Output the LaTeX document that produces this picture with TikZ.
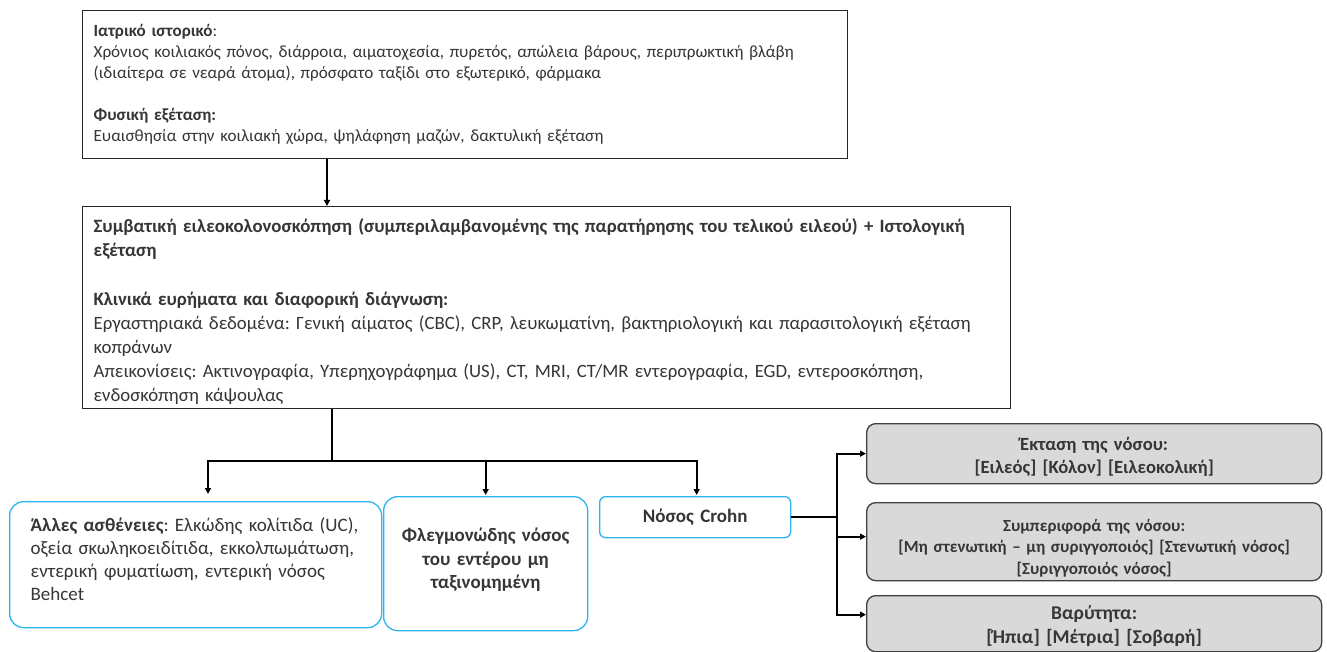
\documentclass[tikz,border=0pt]{standalone}
\usepackage{fontspec}
\setmainfont{Carlito}
\usetikzlibrary{arrows.meta,calc}
\definecolor{txt}{HTML}{363636}
\definecolor{blueb}{HTML}{2BB5EE}
\definecolor{grayf}{HTML}{D9D9D9}
\definecolor{grayb}{HTML}{404040}
\frenchspacing
\newcommand{\topstrut}[1]{\rule{0pt}{#1}}
\newcommand{\botstrut}[1]{\rule[-#1]{0pt}{1pt}}
\begin{document}
\begin{tikzpicture}[x=1pt,y=-1pt,
  sqbox/.style={draw=black!85, line width=1.3pt, anchor=north west, inner xsep=11pt, inner ysep=0pt, align=left, text=txt},
  bluebox/.style={draw=blueb, line width=1.3pt, rounded corners=14pt, anchor=north west, inner ysep=0pt, text=txt},
  graybox/.style={draw=grayb, fill=grayf, line width=1.3pt, rounded corners=9pt, anchor=north west, inner xsep=6pt, inner ysep=0pt, align=center, text=txt, font=\bfseries},
  conn/.style={line width=1.8pt, black},
  arr/.style={conn, -{Triangle[length=6pt,width=6pt]}}]
\useasboundingbox (0,0) rectangle (1327,652);
\fill[white] (0,0) rectangle (1327,652);

\node[sqbox, text width=743pt, minimum height=148pt, font=\fontsize{17.1}{21}\selectfont\frenchspacing] (b1) at (82,10)
{\textbf{Ιατρικό ιστορικό}:\\
Χρόνιος κοιλιακός πόνος, διάρροια, αιματοχεσία, πυρετός, απώλεια βάρους, περιπρωκτική βλάβη\\
(ιδιαίτερα σε νεαρά άτομα), πρόσφατο ταξίδι στο εξωτερικό, φάρμακα\\[21pt]
\textbf{Φυσική εξέταση:}\\
Ευαισθησία στην κοιλιακή χώρα, ψηλάφηση μαζών, δακτυλική εξέταση};

\node[sqbox, text width=906pt, minimum height=202pt, font=\fontsize{18.8}{24.2}\selectfont\frenchspacing] (b2) at (82,206)
{\topstrut{22pt}\textbf{Συμβατική ειλεοκολονοσκόπηση (συμπεριλαμβανομένης της παρατήρησης του τελικού ειλεού) + Ιστολογική}\\
\textbf{εξέταση}\\[24.2pt]
\textbf{Κλινικά ευρήματα και διαφορική διάγνωση:}\\
Εργαστηριακά δεδομένα: Γενική αίματος (CBC), CRP, λευκωματίνη, βακτηριολογική και παρασιτολογική εξέταση\\
κοπράνων\\
Απεικονίσεις: Ακτινογραφία, Υπερηχογράφημα (US), CT, MRI, CT/MR εντερογραφία, EGD, εντεροσκόπηση,\\
ενδοσκόπηση κάψουλας};

\node[bluebox, inner xsep=21pt, text width=330pt, minimum height=126pt, align=left, font=\fontsize{19}{23}\selectfont\frenchspacing] (A) at (9,501)
{\textbf{Άλλες ασθένειες}: Ελκώδης κολίτιδα (UC),\\
οξεία σκωληκοειδίτιδα, εκκολπωμάτωση,\\
εντερική φυματίωση, εντερική νόσος\\
Behcet\botstrut{11pt}};

\node[bluebox, inner xsep=6pt, text width=192pt, minimum height=134pt, align=center, font=\fontsize{19}{23.5}\bfseries] (B) at (383,496)
{Φλεγμονώδης νόσος\\ του εντέρου μη\\ ταξινομημένη\\[-13.5pt]\mbox{}};

\node[bluebox, rounded corners=6pt, inner xsep=6pt, text width=179pt, minimum height=41pt, align=center, font=\fontsize{19}{22}\bfseries] (C) at (599,496)
{Νόσος Crohn};

\node[graybox, text width=443pt, minimum height=60pt, font=\fontsize{18.6}{23.5}\bfseries] (E1) at (866,423)
{\topstrut{20pt}Έκταση της νόσου:\\ {[}Ειλεός] [Κόλον] [Ειλεοκολική]};

\node[graybox, text width=443pt, minimum height=78pt, font=\fontsize{17}{21.5}\bfseries] (E2) at (866,502)
{\topstrut{25pt}Συμπεριφορά της νόσου:\\ {[}Μη στενωτική – μη συριγγοποιός] [Στενωτική νόσος]\\ {[}Συριγγοποιός νόσος]};

\node[graybox, text width=443pt, minimum height=56pt, font=\fontsize{19.5}{24.5}\bfseries] (E3) at (866,595)
{\topstrut{18.5pt}Βαρύτητα:\\ {[}Ήπια] [Μέτρια] [Σοβαρή]};

% connectors
\draw[arr] ([xshift=245pt]b1.south west) -- ([xshift=245pt]b2.north west);
\coordinate (j) at (332,461);
\draw[conn] ([xshift=250pt]b2.south west) -- (j);
\draw[arr] (j) -| ([xshift=199pt,yshift=7pt]A.north west);
\draw[arr] (j) -| ([yshift=1pt]B.north);
\draw[arr] (j) -| ([xshift=1.5pt,yshift=1pt]C.north);
\coordinate (k) at ($(C.east)+(46,0)$);
\draw[conn] (C.east) -- (k);
\draw[arr] (k) |- (E1.west);
\draw[arr] (k) |- ([yshift=5pt]E2.west);
\draw[arr] (k) |- ([yshift=9pt]E3.west);
\end{tikzpicture}
\end{document}
